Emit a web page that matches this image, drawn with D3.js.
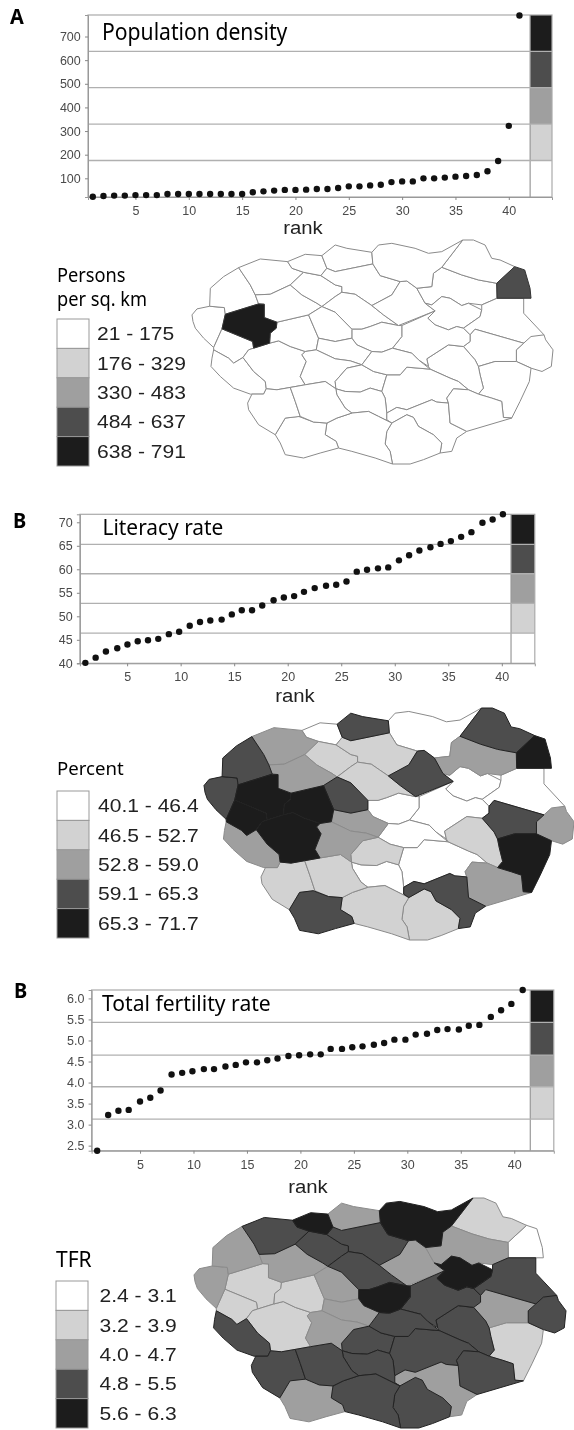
<!DOCTYPE html>
<html><head><meta charset="utf-8">
<script src="https://cdn.jsdelivr.net/npm/d3@7/dist/d3.min.js"></script>
<style>
html,body{margin:0;padding:0;background:#fff}
svg{display:block;filter:blur(0.4px)}
.sans{font-family:"Liberation Sans",Arial,sans-serif}
.myr{font-family:"Noto Sans",sans-serif}
</style></head><body>
<svg id="c" width="574" height="1430"></svg>
<script>
// ---------- DATA ----------
const classColors = ["#ffffff","#d2d2d2","#9f9f9f","#4d4d4d","#1c1c1c"];

const densityValues = [22,25,27,27,29,29,29,34,34,34,34,34,34,34,34,41,45,48,51,51,52,55,55,59,66,66,70,73,84,87,87,100,100,103,107,110,114,130,173,322,789];
const densityRanks = d3.range(1,42);
const densityBreaks = [21,175.5,329.5,483.5,637.5,791];
const densityTicks = [100,200,300,400,500,600,700];
const densityLegend = ["21 - 175","176 - 329","330 - 483","484 - 637","638 - 791"];

const literacyValues = [40.1,41.2,42.5,43.2,44.0,44.7,44.9,45.2,46.2,46.7,48.0,48.8,49.1,49.3,50.4,51.3,51.3,52.3,53.4,54.0,54.3,55.2,56.0,56.5,56.7,57.4,59.5,59.9,60.2,60.4,61.9,63.0,64.0,64.7,65.4,66.0,66.9,67.9,69.9,70.6,71.7];
const literacyRanks = [1.1,2.06,3.02,4.08,5.03,5.99,6.95,7.91,8.9,9.86,10.85,11.81,12.77,13.83,14.78,15.71,16.67,17.62,18.68,19.64,20.6,21.52,22.52,23.58,24.53,25.49,26.45,27.41,28.43,29.39,30.39,31.34,32.3,33.33,34.28,35.24,36.2,37.16,38.19,39.14,40.1];
const literacyBreaks = [40,46.4,52.75,59.05,65.3,71.7];
const literacyTicks = [40,45,50,55,60,65,70];
const literacyLegend = ["40.1 - 46.4","46.5 - 52.7","52.8 - 59.0","59.1 - 65.3","65.3 - 71.7"];

const fertilityValues = [2.38,3.23,3.33,3.35,3.55,3.64,3.81,4.19,4.23,4.27,4.32,4.32,4.38,4.42,4.48,4.48,4.53,4.57,4.63,4.65,4.67,4.67,4.80,4.80,4.84,4.86,4.90,4.94,5.02,5.02,5.14,5.16,5.25,5.27,5.26,5.35,5.37,5.56,5.72,5.87,6.20];
const fertilityRanks = [0.99,2.02,2.98,3.94,5,5.96,6.92,7.95,8.94,9.9,10.97,11.92,12.99,13.95,14.91,15.94,16.9,17.86,18.88,19.88,20.91,21.9,22.83,23.89,24.85,25.81,26.87,27.83,28.79,29.82,30.78,31.84,32.8,33.76,34.82,35.75,36.74,37.81,38.77,39.73,40.79];
const fertilityBreaks = [2.38,3.13,3.90,4.65,5.43,6.2];
const fertilityTicks = [2.5,3,3.5,4,4.5,5,5.5,6];
const fertilityLegend = ["2.4 - 3.1","3.2 - 3.9","4.0 - 4.7","4.8 - 5.5","5.6 - 6.3"];

const rankTicks = [5,10,15,20,25,30,35,40];

// Region outlines (map units), one ring per district
const regionOutlines = [
[[65,240],[80,222],[118,214],[162,218],[165,238],[155,282],[130,338],[100,310],[75,280],[68,260]],
[[118,214],[120,160],[160,125],[205,98],[240,150],[255,180],[265,207],[165,238],[162,218]],
[[165,238],[265,207],[282,208],[282,248],[320,262],[318,280],[300,295],[298,325],[250,340],[247,320],[155,282]],
[[155,282],[247,320],[250,340],[235,345],[218,368],[190,385],[175,370],[130,345],[130,338]],
[[130,345],[175,370],[190,385],[218,368],[250,410],[285,440],[288,462],[280,478],[240,478],[190,460],[150,425],[122,395],[125,370]],
[[218,368],[235,345],[250,340],[298,325],[325,318],[360,335],[405,350],[395,360],[408,380],[390,425],[405,450],[360,458],[320,465],[288,462],[285,440],[250,410]],
[[205,98],[270,72],[352,80],[365,100],[400,112],[360,150],[300,178],[255,180],[240,150]],
[[320,262],[415,240],[445,310],[438,345],[405,350],[360,335],[325,318],[298,325],[300,295],[318,280]],
[[255,180],[300,178],[360,150],[395,180],[440,205],[455,215],[415,240],[320,262],[282,248],[282,208],[265,207]],
[[360,150],[400,112],[452,122],[495,150],[515,155],[515,172],[495,185],[455,215],[440,205],[395,180]],
[[352,80],[405,58],[455,62],[470,100],[452,122],[400,112],[365,100]],
[[455,62],[495,30],[530,40],[605,52],[608,87],[495,110],[470,100]],
[[452,122],[470,100],[495,110],[608,87],[630,122],[690,140],[665,180],[605,212],[580,195],[555,178],[515,172],[515,155],[495,150]],
[[495,185],[515,172],[555,178],[580,195],[605,212],[640,240],[685,272],[635,262],[600,275],[575,283],[545,283],[495,232],[455,215]],
[[605,212],[665,180],[690,140],[710,138],[740,160],[765,205],[795,228],[685,272],[640,240]],
[[740,160],[785,155],[790,115],[815,97],[875,120],[925,135],[980,145],[981,190],[935,210],[895,205],[875,212],[840,190],[815,185],[785,210],[765,205]],
[[815,97],[878,15],[910,15],[945,30],[965,70],[990,75],[1034,95],[980,145],[925,135],[875,120]],
[[980,145],[1034,95],[1064,105],[1080,160],[1083,190],[981,190]],
[[605,52],[625,30],[665,25],[735,40],[775,55],[815,50],[878,15],[815,97],[790,115],[785,155],[740,160],[710,138],[690,140],[630,122],[608,87]],
[[785,210],[815,185],[840,190],[875,212],[895,205],[935,225],[930,245],[880,280],[860,275],[835,285],[795,270],[773,250],[795,228],[765,205]],
[[935,210],[981,190],[1061,190],[1061,235],[1122,300],[1061,325],[915,283],[900,300],[880,280],[930,245],[935,225]],
[[1061,325],[1083,305],[1122,300],[1127,315],[1149,345],[1144,395],[1116,410],[1083,400],[1039,380],[1039,345]],
[[900,300],[915,283],[1061,325],[1039,345],[1039,380],[975,380],[925,395],[915,375],[880,335],[900,320]],
[[925,395],[975,380],[1039,380],[1083,400],[1078,440],[1050,500],[1025,550],[1000,548],[995,500],[965,490],[925,478],[940,460],[930,420]],
[[770,372],[835,330],[880,335],[915,375],[925,395],[930,420],[940,460],[925,478],[895,465],[865,440],[840,430],[780,403],[775,395]],
[[695,272],[795,228],[773,250],[795,270],[835,285],[860,275],[880,280],[900,300],[900,320],[880,335],[835,330],[770,372],[775,395],[745,375],[725,355],[667,340],[695,305]],
[[545,283],[575,283],[600,275],[635,262],[685,272],[695,272],[695,305],[667,340],[635,352],[605,350],[560,330],[545,310]],
[[415,240],[455,215],[495,232],[545,283],[545,310],[495,320],[445,310]],
[[445,310],[495,320],[545,310],[560,330],[605,350],[575,390],[540,378],[495,372],[438,345]],
[[405,350],[438,345],[495,372],[540,378],[575,390],[530,400],[495,440],[497,462],[465,440],[405,450],[390,425],[408,380],[395,360]],
[[575,390],[610,410],[650,420],[635,470],[600,460],[570,472],[525,470],[497,462],[495,440],[530,400]],
[[650,420],[690,420],[710,397],[780,403],[840,430],[865,440],[895,465],[850,462],[830,490],[835,505],[800,502],[785,495],[710,525],[680,518],[650,535],[645,490],[635,470]],
[[605,350],[635,352],[667,340],[725,355],[745,375],[780,403],[710,397],[690,420],[650,420],[610,410],[575,390]],
[[497,462],[525,470],[570,472],[600,460],[635,470],[645,490],[650,535],[650,555],[665,565],[625,545],[595,530],[545,535],[525,520],[500,480]],
[[650,535],[680,518],[710,525],[785,495],[800,502],[835,505],[840,565],[890,590],[860,610],[845,650],[810,655],[815,625],[790,600],[745,575],[730,548],[710,540],[665,565],[650,555]],
[[830,490],[850,462],[895,465],[925,478],[965,490],[995,500],[1000,548],[1025,550],[890,590],[840,565],[835,505]],
[[665,565],[710,540],[730,548],[745,575],[790,600],[815,625],[810,655],[760,675],[720,688],[667,688],[660,650],[645,628],[650,590]],
[[470,565],[500,550],[545,535],[595,530],[625,545],[665,565],[650,590],[645,628],[660,650],[667,688],[615,670],[545,650],[505,640],[498,620],[465,600]],
[[315,600],[345,550],[385,545],[430,562],[470,565],[465,600],[498,620],[505,640],[450,655],[400,670],[345,660],[330,625]],
[[245,478],[280,478],[288,462],[320,465],[360,458],[375,500],[390,545],[345,550],[315,600],[265,570],[235,525],[232,505]],
[[360,458],[405,450],[465,440],[497,462],[500,480],[525,520],[545,535],[500,550],[470,565],[430,562],[390,545],[375,500]]
];
const densityClasses  = [0,0,4,0,0,0,0,0,0,0,0,0,0,0,0,0,0,3,0,0,0,0,0,0,0,0,0,0,0,0,0,0,0,0,0,0,0,0,0,0,0];
const literacyClasses = [3,3,4,4,2,4,2,4,2,1,0,3,1,1,3,2,3,4,0,0,0,2,3,4,1,0,0,3,2,2,1,0,0,0,3,2,1,1,3,1,1];
const fertilityClasses= [2,2,1,1,3,1,3,1,2,3,4,2,3,3,2,2,1,0,4,4,3,3,2,1,3,3,4,2,2,2,3,3,3,3,2,3,3,3,2,3,3];

// ---------- DRAW ----------
const svg = d3.select("#c");

function stretchText(g, str, x, y, size, sx, opts={}){
  return g.append("text").attr("class",opts.cls||"sans")
    .attr("transform",`translate(${x},${y}) scale(${sx},1)`)
    .attr("font-size",size).attr("fill",opts.fill||"#222")
    .attr("font-weight",opts.weight||"normal")
    .attr("text-anchor",opts.anchor||"start").text(str);
}

function panel(p){
  const g = svg.append("g");
  const x = d3.scaleLinear().domain(p.xDomain).range(p.xRange);
  const y = d3.scaleLinear().domain(p.yDomain).range(p.yRange);
  const color = classColors;
  const fx = x.range(), fy = y.range();

  // colour strip
  g.selectAll("rect.s").data(d3.pairs(p.breaks)).join("rect")
    .attr("x",x(p.stripStart)).attr("width",fx[1]-x(p.stripStart))
    .attr("y",d=>y(d[1])).attr("height",d=>y(d[0])-y(d[1]))
    .attr("fill",(d,i)=>color[i]);

  // frame
  g.append("rect").attr("x",fx[0]).attr("y",fy[1]).attr("width",fx[1]-fx[0]).attr("height",fy[0]-fy[1])
    .attr("fill","none").attr("stroke","#aaa").attr("stroke-width",1.2);
  g.append("line").attr("x1",x(p.stripStart)).attr("x2",x(p.stripStart)).attr("y1",fy[1]).attr("y2",fy[0])
    .attr("stroke","#999").attr("stroke-width",1.2);

  // break lines
  g.selectAll("line.b").data(p.breaks.slice(1,-1)).join("line")
    .attr("x1",fx[0]).attr("x2",fx[1]).attr("y1",d=>y(d)).attr("y2",d=>y(d))
    .attr("stroke","#b0b0b0").attr("stroke-width",1.3);

  // axes
  const ax = g.append("g").attr("transform",`translate(0,${fy[0]})`)
    .call(d3.axisBottom(x).tickValues(rankTicks).tickSize(3).tickFormat(d3.format("d")));
  const ay = g.append("g").attr("transform",`translate(${fx[0]},0)`)
    .call(d3.axisLeft(y).tickValues(p.ticks).tickSize(3).tickFormat(p.fmt));
  [ax,ay].forEach(a=>{
    a.select(".domain").attr("stroke","#999");
    a.selectAll(".tick line").attr("stroke","#888");
    a.selectAll("text").attr("class","sans").attr("font-size",12.5).attr("fill","#4a4a4a").attr("font-family",'"Liberation Sans",sans-serif');
  });
  ax.selectAll("text").attr("dy","0.95em");
  ay.selectAll("text").attr("dx","-0.1em");

  // points
  g.selectAll("circle").data(p.values).join("circle")
    .attr("cx",(d,i)=>x(p.ranks[i])).attr("cy",d=>y(d)).attr("r",3.2).attr("fill","#111");

  // titles
  stretchText(g,p.letter,p.letterPos[0],p.letterPos[1],21,0.95,{cls:"myr",weight:"bold",fill:"#000"});
  stretchText(g,p.title,p.titlePos[0],p.titlePos[1],p.titleSize,p.titleSx,{cls:"myr",fill:"#000"});
  stretchText(g,"rank",p.rankPos[0],p.rankPos[1],18,1.13,{anchor:"middle",fill:"#222"});
}

function legend(l){
  const g = svg.append("g");
  const band = d3.scaleBand().domain(d3.range(5)).range(l.yRange);
  g.selectAll("rect").data(classColors).join("rect")
    .attr("x",l.x).attr("y",(d,i)=>band(i)).attr("width",l.w).attr("height",band.bandwidth())
    .attr("fill",d=>d).attr("stroke","#999").attr("stroke-width",1);
  l.labels.forEach((t,i)=>stretchText(g,t,l.labelX,band(i)+band.bandwidth()/2+6.5,l.fontSize||18,l.labelSx,{fill:"#222"}));
  l.title.forEach((t,i)=>stretchText(g,t,l.x,l.titleY[i],l.titleSize,l.titleSx||1,{cls:"myr",fill:"#000"}));
}

function map(m){
  const sx = d3.scaleLinear().domain([65,1149]).range(m.xRange);
  const sy = d3.scaleLinear().domain([15,688]).range(m.yRange);
  const proj = d3.geoTransform({point(a,b){this.stream.point(sx(a),sy(b));}});
  const path = d3.geoPath(proj);
  const order = d3.range(regionOutlines.length).sort((a,b)=>m.classes[a]-m.classes[b]);
  svg.append("g").selectAll("path").data(order).join("path")
    .attr("d",i=>{const r=regionOutlines[i];return path({type:"Polygon",coordinates:[[...r,r[0]]]});})
    .attr("fill",i=>classColors[m.classes[i]])
    .attr("stroke",i=>m.classes[i]>=3?m.darkStroke:"#8a8a8a")
    .attr("stroke-width",1).attr("stroke-linejoin","round");
}

panel({values:densityValues,ranks:densityRanks,breaks:densityBreaks,ticks:densityTicks,fmt:d3.format("d"),
  xDomain:[0.55,44.05],xRange:[88,552],yDomain:[21,791],yRange:[197,15],stripStart:42,
  letter:"A",letterPos:[10,24],title:"Population density",titlePos:[102,40],titleSize:23,titleSx:0.92,rankPos:[303,234]});
panel({values:literacyValues,ranks:literacyRanks,breaks:literacyBreaks,ticks:literacyTicks,fmt:d3.format("d"),
  xDomain:[0.59,43.08],xRange:[79.9,534.8],yDomain:[40,71.7],yRange:[663.3,514.3],stripStart:40.86,
  letter:"B",letterPos:[13,528],title:"Literacy rate",titlePos:[102.5,535],titleSize:22,titleSx:0.95,rankPos:[295,702]});
panel({values:fertilityValues,ranks:fertilityRanks,breaks:fertilityBreaks,ticks:fertilityTicks,fmt:d3.format(".1f"),
  xDomain:[0.47,43.7],xRange:[91.6,553.8],yDomain:[2.38,6.2],yRange:[1150.7,990],stripStart:41.5,
  letter:"B",letterPos:[14,998],title:"Total fertility rate",titlePos:[102,1011],titleSize:22,titleSx:0.96,rankPos:[308,1193]});

legend({x:57,w:32,yRange:[319,466],labels:densityLegend,labelX:97,labelSx:1.17,title:["Persons","per sq. km"],titleY:[282,306],titleSize:19,titleSx:0.96});
legend({x:57,w:32,yRange:[791,938],labels:literacyLegend,labelX:98,labelSx:1.17,title:["Percent"],titleY:[775],titleSize:19,titleSx:0.98});
legend({x:56,w:32,yRange:[1281,1428],labels:fertilityLegend,labelX:99.5,labelSx:1.17,title:["TFR"],titleY:[1267],titleSize:21});

map({classes:densityClasses,xRange:[192,553],yRange:[240,464],darkStroke:"#333"});
map({classes:literacyClasses,xRange:[204,574],yRange:[708,940],darkStroke:"#222"});
map({classes:fertilityClasses,xRange:[194,566],yRange:[1198,1428],darkStroke:"#222"});
</script>
</body></html>
